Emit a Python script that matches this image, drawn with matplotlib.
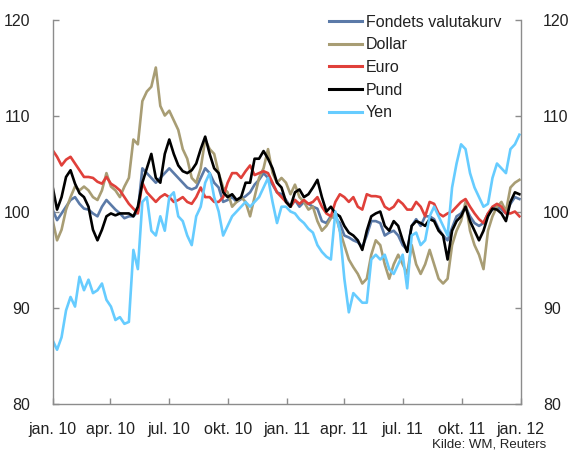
import matplotlib
matplotlib.use("Agg")
import matplotlib.pyplot as plt
import pandas as pd
import numpy as np

# weekly readings, first observation 2010-01-01
start_date = "2010-01-01"
n_weeks = 105

euro = [106.4, 105.7, 104.8, 105.4, 105.7, 105.0, 104.3, 103.6, 103.6, 103.5, 103.1, 102.9, 103.6, 102.9, 102.6, 102.2, 101.5, 100.8,
        100.3, 99.8, 103.0, 102.0, 101.5, 101.0, 101.5, 101.8, 101.5, 101.0, 101.2, 101.5, 101.0, 100.8, 101.5, 102.5, 101.5, 101.5,
        101.0, 101.0, 101.5, 103.0, 104.0, 104.0, 103.5, 104.2, 104.8, 103.8, 104.0, 104.2, 104.0, 103.0, 102.0, 101.5, 101.0,
        100.5, 101.2, 100.8, 101.2, 100.8, 101.0, 101.5, 100.5, 99.8, 99.5, 101.0, 101.8, 101.5, 101.0, 101.5, 100.5, 100.2,
        101.8, 101.6, 101.6, 101.5, 100.5, 100.2, 100.5, 101.2, 100.8, 100.2, 100.2, 101.0, 100.5, 99.5, 101.0, 100.8, 99.8, 99.5,
        99.8, 100.0, 100.5, 101.0, 101.3, 100.5, 99.8, 99.2, 98.8, 99.8, 100.5, 100.8, 100.5, 99.8, 99.8, 100.0, 99.5]

pund = [102.6, 100.2, 101.5, 103.6, 104.3, 102.9, 101.9, 101.5, 100.5, 98.1, 97.0, 98.1, 99.5, 99.8, 99.6, 99.8, 99.8, 99.8,
        99.5, 100.5, 103.0, 104.5, 106.0, 103.5, 103.0, 106.0, 107.5, 106.0, 104.8, 104.2, 104.0, 104.3, 105.0, 106.5, 107.8, 106.0,
        104.5, 104.0, 102.0, 101.5, 101.8, 101.2, 101.5, 103.0, 103.0, 105.5, 105.5, 106.3, 105.5, 104.5, 103.0, 102.5, 101.0,
        100.5, 102.0, 102.3, 101.5, 101.8, 102.5, 103.3, 101.5, 100.0, 100.5, 99.8, 99.5, 98.5, 97.8, 97.5, 97.0, 96.0,
        98.0, 99.5, 99.8, 100.0, 98.5, 98.0, 99.0, 98.5, 97.0, 95.8, 98.5, 99.0, 98.8, 98.5, 99.2, 99.0, 98.0, 97.5,
        95.0, 98.0, 99.0, 99.5, 100.5, 99.0, 98.0, 97.0, 98.0, 99.5, 100.3, 100.2, 99.8, 99.0, 101.0, 102.0, 101.8]

fondet = [100.2, 99.1, 99.8, 100.5, 101.2, 101.5, 100.8, 100.3, 100.2, 99.8, 99.5, 100.5, 101.2, 100.7, 100.2, 99.8, 99.3, 99.5,
          99.5, 100.0, 104.5, 104.0, 103.5, 103.0, 103.5, 104.0, 104.5, 104.0, 103.5, 103.0, 102.5, 102.3, 102.5, 103.5, 104.5, 104.0,
          103.0, 102.5, 101.0, 101.2, 101.5, 101.0, 101.3, 101.6, 102.0, 102.8, 103.3, 104.0, 103.5, 102.8, 102.0, 101.8, 101.2,
          100.5, 101.2, 100.5, 101.0, 100.8, 100.5, 100.3, 99.0, 98.8, 99.5, 99.3, 98.8, 97.5, 97.3, 97.0, 96.8, 96.3,
          97.5, 99.0, 99.0, 98.8, 97.5, 97.8, 98.0, 97.5, 96.5, 96.0, 98.5, 99.2, 98.5, 99.5, 99.5, 99.2, 98.2, 97.5,
          97.0, 98.3, 99.5, 99.8, 100.5, 99.5, 98.8, 98.5, 98.8, 99.8, 100.2, 100.5, 100.2, 99.8, 100.8, 101.5, 101.3]

dollar = [99.1, 97.0, 98.1, 100.2, 101.5, 102.6, 102.2, 102.6, 102.2, 101.5, 101.2, 102.2, 104.0, 102.6, 102.2, 101.5, 102.6, 103.5,
          107.5, 107.0, 111.5, 112.5, 113.0, 115.0, 111.0, 110.0, 110.5, 109.5, 108.5, 106.5, 105.5, 103.5, 103.0, 104.5, 107.5, 106.5,
          106.0, 104.0, 102.5, 102.0, 100.5, 101.0, 101.5, 101.0, 99.5, 101.5, 103.5, 104.5, 106.5, 104.0, 103.0, 103.5, 103.0,
          101.8, 102.8, 101.5, 101.0, 100.2, 100.5, 99.0, 98.0, 98.5, 99.3, 99.8, 98.0, 96.5, 95.0, 94.2, 93.5, 92.5,
          93.0, 95.5, 97.0, 96.5, 94.5, 93.0, 94.5, 95.5, 94.5, 93.5, 96.5, 94.5, 93.5, 94.5, 96.0, 94.5, 93.0, 92.5,
          93.0, 96.5, 98.0, 99.0, 101.0, 98.0, 96.5, 95.5, 94.0, 98.0, 99.5, 100.5, 101.0, 100.0, 102.5, 103.0, 103.3]

yen = [86.6, 85.6, 86.9, 89.7, 91.1, 90.1, 93.2, 91.8, 92.9, 91.5, 91.8, 92.5, 90.8, 90.1, 88.7, 89.0, 88.3, 88.5,
       96.0, 94.0, 101.0, 101.5, 98.0, 97.5, 99.5, 98.0, 101.5, 102.0, 99.5, 99.0, 97.5, 96.5, 99.5, 100.5, 103.0, 104.0,
       101.5, 100.0, 97.5, 98.5, 99.5, 100.0, 100.5, 101.0, 100.5, 101.0, 101.5, 102.5, 103.5, 101.0, 98.8, 100.5, 100.5,
       100.0, 99.8, 99.2, 98.8, 98.2, 97.8, 96.5, 95.8, 95.3, 95.0, 100.0, 98.0, 93.0, 89.5, 91.5, 91.0, 90.5,
       90.5, 95.0, 95.5, 95.0, 95.5, 94.0, 93.5, 94.5, 95.5, 92.0, 97.5, 97.8, 96.5, 97.0, 99.5, 100.5, 99.5, 98.5,
       97.5, 102.5, 105.0, 107.0, 106.5, 104.0, 102.5, 101.5, 100.5, 100.8, 103.5, 105.0, 104.5, 104.0, 106.5, 107.0, 108.0]

series_names = ["Fondets valutakurv", "Dollar", "Euro", "Pund", "Yen"]
tick_dates = ["2010-01-01", "2010-04-01", "2010-07-01", "2010-10-01", "2011-01-01",
              "2011-04-01", "2011-07-01", "2011-10-01", "2012-01-01"]
tick_labels = ["jan. 10", "apr. 10", "jul. 10", "okt. 10", "jan. 11",
               "apr. 11", "jul. 11", "okt. 11", "jan. 12"]
y_ticks = [80, 90, 100, 110, 120]
source = "Kilde: WM, Reuters"

colors = ["#5b7aa8", "#a89d74", "#e0403a", "#000000", "#66ccff"]
FONT = ["Liberation Sans Narrow", "Arial Narrow", "Liberation Sans", "DejaVu Sans"]
plt.rcParams["font.family"] = FONT

dates = pd.date_range(start_date, periods=n_weeks, freq="7D")
data = [fondet, dollar, euro, pund, yen]

fig = plt.figure(figsize=(5.69, 4.54), dpi=100)
ax = fig.add_axes([0.0924, 0.1112, 0.8227, 0.8458])

for name, vals, c in zip(series_names, data, colors):
    ax.plot(dates, vals, color=c, lw=1.9, label=name, solid_joinstyle="round")

ax.set_xlim(pd.Timestamp("2010-01-01"), pd.Timestamp("2012-01-01"))
ax.set_ylim(80, 120)
ax.set_yticks(y_ticks)
ax.set_xticks(pd.to_datetime(tick_dates))
ax.set_xticklabels(tick_labels)

for s in ["left", "right", "bottom"]:
    ax.spines[s].set_color("#8c8c8c")
    ax.spines[s].set_linewidth(1.0)
ax.spines["top"].set_visible(False)

ax.tick_params(axis="y", direction="in", length=4, width=1, color="#8c8c8c",
               left=True, right=True, labelleft=True, labelright=True,
               labelsize=11.5, labelcolor="#222222", pad=16)
ax.tick_params(axis="x", direction="in", length=4, width=1, color="#8c8c8c",
               labelsize=11.5, labelcolor="#222222", pad=13)

leg = ax.legend(loc="upper left", bbox_to_anchor=(0.578, 0.968), bbox_transform=fig.transFigure,
                frameon=False, fontsize=11.5, handlelength=2.1, handletextpad=0.2,
                labelspacing=0.48, borderpad=0, borderaxespad=0)
for t in leg.get_texts():
    t.set_color("#222222")
for h in leg.get_lines():
    h.set_linewidth(2.2)

fig.text(0.96, 0.008, source, ha="right", va="bottom", fontsize=9.5, color="#222222")

fig.savefig("out.png", dpi=100)
